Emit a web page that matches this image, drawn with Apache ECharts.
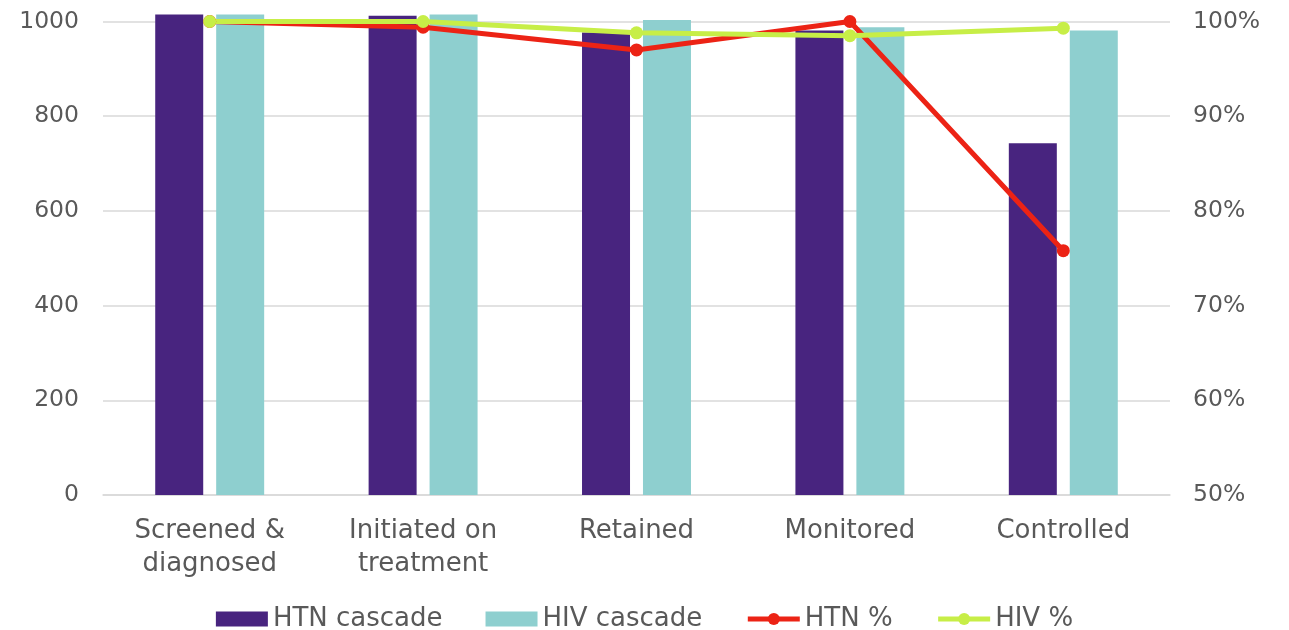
<!DOCTYPE html>
<html>
<head>
<meta charset="utf-8">
<script src="https://cdn.jsdelivr.net/npm/echarts@6/dist/echarts.min.js"></script>
<style>
  html, body { margin: 0; padding: 0; background: #fff; }
  #main { width: 1289px; height: 630px; }
</style>
</head>
<body>
<div id="main"></div>
<script>
// data
var categories = ['Screened &\ndiagnosed', 'Initiated on\ntreatment', 'Retained', 'Monitored', 'Controlled'];
var htnCascade = [1015, 1012, 977, 981, 743];
var hivCascade = [1015, 1015, 1003, 988, 981];
var htnPct = [1.000, 0.994, 0.970, 1.000, 0.758];
var hivPct = [1.000, 1.000, 0.988, 0.985, 0.993];
var leftTicks = [0, 1000, 200];
var rightTicks = [0.5, 1, 0.1];

var font = 'DejaVu Sans';
var txt = '#595959';
var red = '#EC2315', green = '#C7EE47';

var chart = echarts.init(document.getElementById('main'));
chart.setOption({
  animation: false,
  textStyle: { fontFamily: font },
  grid: { left: 103, right: 119, top: 21.5, bottom: 135, containLabel: false },
  legend: {
    top: 601,
    left: 'center',
    itemWidth: 52,
    itemHeight: 15,
    itemGap: 43,
    textStyle: { fontFamily: font, fontSize: 26, color: txt },
    data: [
      { name: 'HTN cascade', icon: 'rect' },
      { name: 'HIV cascade', icon: 'rect' },
      { name: 'HTN %', lineStyle: { width: 5, color: red } },
      { name: 'HIV %', lineStyle: { width: 5, color: green } }
    ]
  },
  xAxis: {
    type: 'category',
    data: categories,
    axisLine: { lineStyle: { color: '#d9d9d9', width: 1.5 } },
    axisTick: { show: false },
    axisLabel: { fontFamily: font, fontSize: 26, color: txt, margin: 20, lineHeight: 33 }
  },
  yAxis: [{
    type: 'value',
    min: leftTicks[0], max: leftTicks[1], interval: leftTicks[2],
    axisLine: { show: false },
    axisTick: { show: false },
    axisLabel: {
      fontFamily: font, fontSize: 23.5, color: txt, margin: 24,
      formatter: function (v) { return String(v); }
    },
    splitLine: { lineStyle: { color: '#d9d9d9', width: 1.5 } }
  }, {
    type: 'value',
    min: rightTicks[0], max: rightTicks[1], interval: rightTicks[2],
    axisLine: { show: false },
    axisTick: { show: false },
    splitLine: { show: false },
    axisLabel: {
      fontFamily: font, fontSize: 23.5, color: txt, margin: 23,
      formatter: function (v) { return Math.round(v * 100) + '%'; }
    }
  }],
  series: [{
    name: 'HTN cascade',
    type: 'bar',
    data: htnCascade,
    clip: false,
    barWidth: 48,
    barGap: '27%',
    itemStyle: { color: '#48247F' }
  }, {
    name: 'HIV cascade',
    type: 'bar',
    data: hivCascade,
    clip: false,
    barWidth: 48,
    itemStyle: { color: '#8ECFCF' }
  }, {
    name: 'HTN %',
    type: 'line',
    yAxisIndex: 1,
    data: htnPct,
    clip: false,
    symbol: 'circle',
    symbolSize: 13,
    lineStyle: { color: red, width: 5 },
    itemStyle: { color: red }
  }, {
    name: 'HIV %',
    type: 'line',
    yAxisIndex: 1,
    data: hivPct,
    clip: false,
    symbol: 'circle',
    symbolSize: 13,
    lineStyle: { color: green, width: 5 },
    itemStyle: { color: green }
  }]
});
</script>
</body>
</html>
